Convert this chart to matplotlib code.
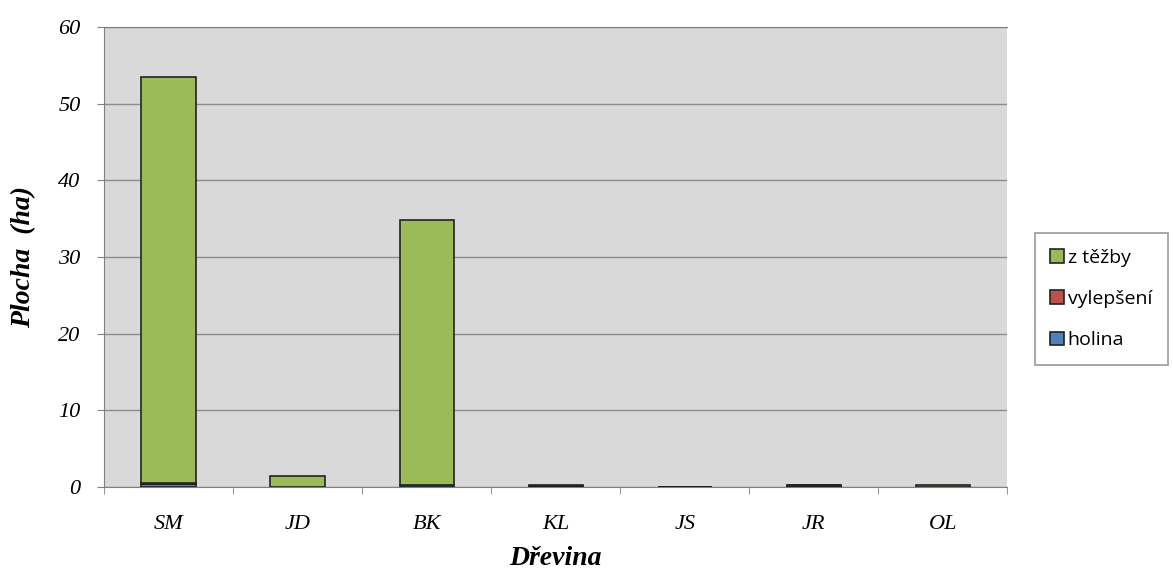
import matplotlib.pyplot as plt
import numpy as np

categories = ["SM", "JD", "BK", "KL", "JS", "JR", "OL"]
holina = [0.35, 0.0, 0.25, 0.1, 0.0, 0.15, 0.05]
vylepseni = [0.15, 0.0, 0.05, 0.05, 0.0, 0.05, 0.0]
z_tezby = [53.0, 1.4, 34.5, 0.15, 0.05, 0.1, 0.15]

fig = plt.figure(figsize=(11.73, 5.77), dpi=100)
ax = fig.add_axes([0.0887, 0.156, 0.770, 0.797])
ax.set_facecolor("#d9d9d9")

x = np.arange(len(categories))
w = 0.42
edge = "#222222"
b1 = ax.bar(x, holina, w, color="#4f81bd", edgecolor=edge, linewidth=1.2, label="holina", zorder=3)
b2 = ax.bar(x, vylepseni, w, bottom=holina, color="#c0504d", edgecolor=edge, linewidth=1.2,
            label="vylepšení", zorder=3)
bottom2 = np.array(holina) + np.array(vylepseni)
b3 = ax.bar(x, z_tezby, w, bottom=bottom2, color="#9bbb59", edgecolor=edge, linewidth=1.2,
            label="z těžby", zorder=3)

ax.set_xlim(-0.5, len(categories) - 0.5)
ax.set_ylim(0, 60)
ax.set_yticks(range(0, 61, 10))
ax.yaxis.grid(True, color="#8c8c8c", linewidth=1.0, zorder=0)

ax.set_xticks(x)
ax.set_xticklabels(categories)
ax.set_xticks(np.arange(-0.5, len(categories)), minor=True)
ax.tick_params(axis="x", which="major", length=0, pad=20)
ax.tick_params(axis="x", which="minor", length=5, color="#808080", direction="out")
ax.tick_params(axis="y", length=5, color="#808080", direction="out", pad=12)

for lbl in ax.get_xticklabels() + ax.get_yticklabels():
    lbl.set_fontfamily("Liberation Serif")
    lbl.set_fontstyle("italic")
    lbl.set_fontsize(16)

for s in ["left", "bottom", "top"]:
    ax.spines[s].set_color("#808080")
ax.spines["right"].set_visible(False)

ax.set_xlabel("Dřevina", fontfamily="Liberation Serif", fontstyle="italic",
              fontweight="bold", fontsize=20, labelpad=9)
ax.set_ylabel("Plocha  (ha)", fontfamily="Liberation Serif", fontstyle="italic",
              fontweight="bold", fontsize=20, labelpad=16)

leg = fig.legend(handles=[b3, b2, b1], labels=["z těžby", "vylepšení", "holina"],
                 loc="upper left", bbox_to_anchor=(0.882, 0.596),
                 prop={"family": "Open Sans", "size": 14},
                 handlelength=0.7, handleheight=0.7, handletextpad=0.2,
                 labelspacing=1.2, borderpad=0.8, borderaxespad=0,
                 fancybox=False, frameon=True)
leg.get_frame().set_edgecolor("#808080")
leg.get_frame().set_linewidth(1.2)

plt.savefig("out.png", dpi=100)
